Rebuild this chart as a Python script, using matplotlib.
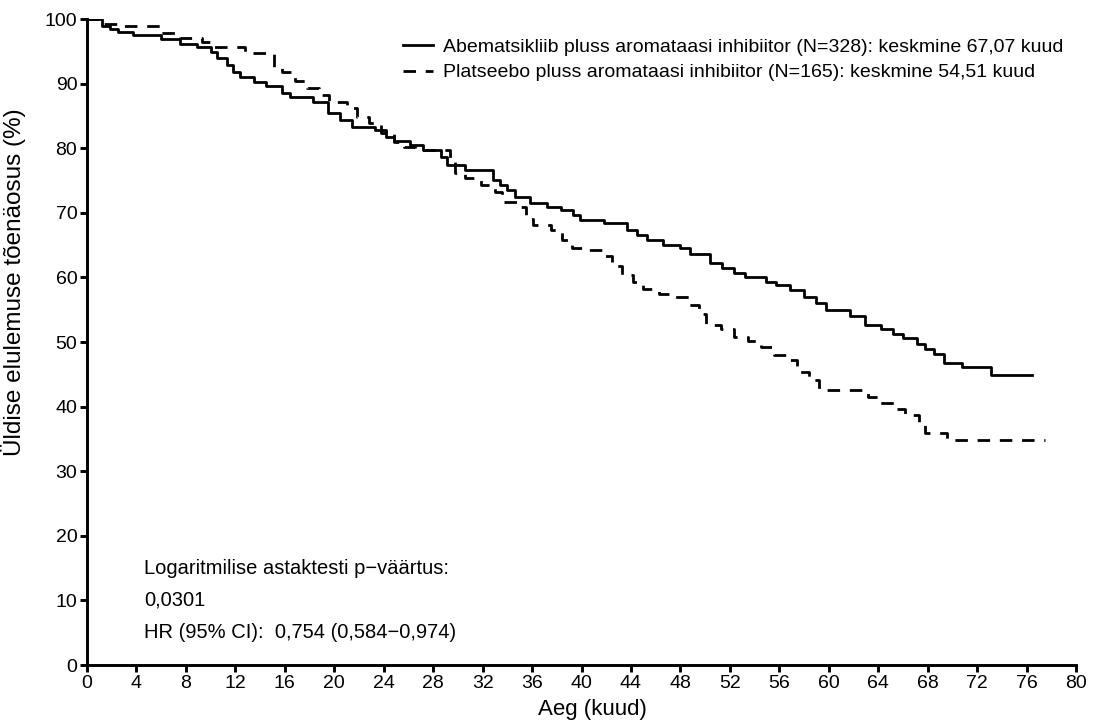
import matplotlib
matplotlib.use('Agg')
import matplotlib.pyplot as plt

plt.rcParams['font.family'] = ['Liberation Sans', 'DejaVu Sans']

# Kaplan-Meier step points (months, survival %)
abema_t = [0, 1.2, 1.9, 2.5, 3.7, 6.0, 7.5, 8.9, 10.0, 10.5, 11.3, 11.8, 12.4, 13.5, 14.5,
           15.8, 16.4, 18.3, 19.5, 20.5, 21.4, 23.3, 24.2, 24.8, 26.1, 27.2, 28.6, 29.1, 30.6,
           32.8, 33.4, 34.0, 34.6, 35.8, 37.2, 38.3, 39.3, 39.9, 41.8, 43.7, 44.5, 45.3, 46.6,
           48.0, 48.8, 50.4, 51.4, 52.3, 53.2, 54.9, 55.7, 56.9, 58.0, 59.0, 59.8, 61.7, 62.9,
           64.2, 65.2, 66.0, 67.1, 67.8, 68.5, 69.3, 70.8, 73.1]
abema_s = [100, 99.0, 98.5, 98.0, 97.5, 96.9, 96.2, 95.6, 94.9, 93.9, 92.9, 91.8, 91.1, 90.3, 89.6,
           88.5, 88.0, 87.2, 85.4, 84.4, 83.3, 82.8, 81.8, 81.1, 80.5, 79.7, 78.7, 77.4, 76.6,
           75.1, 74.3, 73.5, 72.4, 71.5, 70.9, 70.4, 69.7, 68.9, 68.5, 67.3, 66.5, 65.8, 65.0,
           64.5, 63.6, 62.2, 61.4, 60.7, 60.0, 59.3, 58.8, 58.0, 57.0, 56.1, 55.0, 54.1, 52.7,
           52.0, 51.2, 50.6, 49.7, 49.0, 48.2, 46.8, 46.2, 44.9]
abema_end = 76.4

plac_t = [0, 1.0, 2.4, 5.9, 7.5, 9.3, 10.2, 12.8, 15.1, 15.8, 16.8, 17.8, 18.8, 19.6, 21.0,
          21.8, 22.8, 23.8, 24.8, 25.6, 26.5, 29.4, 29.8, 30.6, 31.9, 33.0, 33.6, 34.8, 35.5,
          36.1, 37.5, 38.4, 39.2, 40.3, 41.7, 42.5, 43.3, 44.2, 45.0, 46.3, 47.5, 48.7, 49.5,
          50.1, 51.3, 52.3, 53.5, 54.5, 55.6, 56.5, 57.4, 58.4, 59.2, 63.2, 64.1, 65.3, 66.2,
          67.3, 67.8, 69.6]
plac_s = [100, 99.3, 98.9, 97.8, 97.0, 96.5, 95.7, 94.7, 92.6, 91.8, 90.4, 89.3, 88.2, 87.2, 86.2,
          84.8, 83.9, 82.4, 81.0, 80.2, 79.7, 78.2, 76.2, 75.4, 74.3, 73.3, 71.7, 70.9, 69.1,
          68.1, 67.4, 65.8, 64.5, 64.2, 63.3, 61.7, 60.4, 59.3, 58.2, 57.5, 56.9, 55.7, 54.4,
          52.7, 52.0, 50.8, 50.2, 49.3, 48.0, 47.2, 45.4, 44.1, 42.6, 41.5, 40.5, 39.7, 38.7,
          37.4, 35.9, 34.8]
plac_end = 77.5

abema_label = 'Abematsikliib pluss aromataasi inhibiitor (N=328): keskmine 67,07 kuud'
plac_label = 'Platseebo pluss aromataasi inhibiitor (N=165): keskmine 54,51 kuud'
stats_lines = ['Logaritmilise astaktesti p\u2212väärtus:', '0,0301',
               'HR (95% CI):  0,754 (0,584\u22120,974)']

fig = plt.figure(figsize=(10.93, 7.22), dpi=100)
ax = fig.add_axes([0.0796, 0.0789, 0.9049, 0.8947])

ax.step(abema_t + [abema_end], abema_s + [abema_s[-1]], where='post',
        color='black', lw=2.0, label=abema_label)
ax.step(plac_t + [plac_end], plac_s + [plac_s[-1]], where='post',
        color='black', lw=2.0, dashes=(4.5, 3.5), label=plac_label)

ax.set_xlim(0, 80)
ax.set_ylim(0, 100)
ax.set_xticks(range(0, 81, 4))
ax.set_yticks(range(0, 101, 10))
ax.spines['top'].set_visible(False)
ax.spines['right'].set_visible(False)
for s in ('left', 'bottom'):
    ax.spines[s].set_linewidth(2.1)
ax.tick_params(direction='out', length=5, width=2.1, labelsize=14, pad=2)

ax.set_xlabel('Aeg (kuud)', fontsize=16)
ax.xaxis.set_label_coords(0.511, -0.052)
ax.set_ylabel('Üldise elulemuse tõenäosus (%)', fontsize=17.5)
ax.yaxis.set_label_coords(-0.062, 0.593)

ax.legend(loc='upper left', bbox_to_anchor=(0.312, 0.982), frameon=False,
          fontsize=14, handlelength=1.5, handletextpad=0.55, labelspacing=0.4,
          borderaxespad=0)

for i, txt in enumerate(stats_lines):
    ax.text(4.6, 15 - 5 * i, txt, fontsize=14.5, va='center', ha='left')

fig.savefig('out.png', dpi=100)
